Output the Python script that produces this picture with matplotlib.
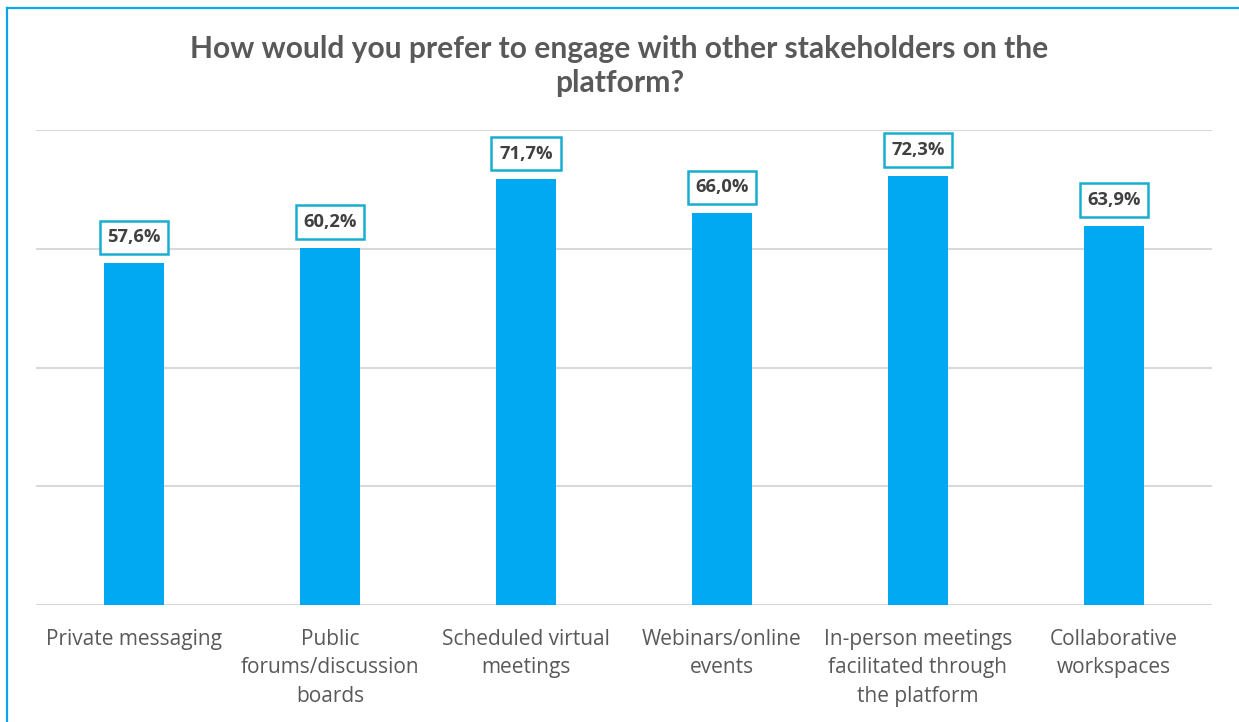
import matplotlib
matplotlib.use('Agg')
import matplotlib.pyplot as plt
from matplotlib.lines import Line2D

# Survey results: preferred ways of engaging with stakeholders
categories = ['Private messaging',
              'Public\nforums/discussion\nboards',
              'Scheduled virtual\nmeetings',
              'Webinars/online\nevents',
              'In-person meetings\nfacilitated through\nthe platform',
              'Collaborative\nworkspaces']
shares = [57.6, 60.2, 71.7, 66.0, 72.3, 63.9]
y_ticks = [0, 20, 40, 60, 80]

title = 'How would you prefer to engage with other stakeholders on the\nplatform?'

BAR_COLOR = '#00A9F1'
BOX_EDGE = '#1AADD0'
TEXT_GREY = '#595959'
GRID_GREY = '#D9D9D9'

W, H = 1239, 722
fig = plt.figure(figsize=(W / 100, H / 100), dpi=100)
fig.patch.set_facecolor('white')

ax = fig.add_axes([36 / W, 1 - 605 / H, (1212 - 36) / W, (605 - 130) / H])
x = list(range(len(categories)))
ax.bar(x, shares, width=0.31, color=BAR_COLOR, zorder=3)

ax.set_xlim(-0.5, len(categories) - 0.5)
ax.set_ylim(0, 80)
ax.set_yticks(y_ticks)
ax.yaxis.grid(True, color=GRID_GREY, linewidth=1.5, zorder=0)
ax.tick_params(axis='y', left=False, labelleft=False)
ax.tick_params(axis='x', length=0, pad=17)
ax.set_xticks(x)
ax.set_xticklabels(categories, fontsize=15, color=TEXT_GREY,
                   family='Open Sans', linespacing=1.48)
for side in ['top', 'right', 'left', 'bottom']:
    ax.spines[side].set_visible(False)

# value labels in outlined boxes above each bar
for xi, v in zip(x, shares):
    ax.annotate(f'{v:.1f}%'.replace('.', ','), xy=(xi, v), xytext=(0, 12),
                textcoords='offset points', ha='center', va='bottom',
                fontsize=13.2, fontweight='bold', color='#404040',
                family='Open Sans',
                bbox=dict(boxstyle='square,pad=0.42', fc='white',
                          ec=BOX_EDGE, lw=1.8), zorder=5)

fig.text(0.5, 1 - 66 / H, title, ha='center', va='center',
         fontsize=21.6, fontweight='bold', color=TEXT_GREY,
         family='Lato', linespacing=1.22)

# chart frame (open on the right and bottom)
fig.add_artist(Line2D([7 / W, 7 / W], [0, 1 - 8 / H], color='#0AA6E8',
                      lw=1.6, transform=fig.transFigure))
fig.add_artist(Line2D([7 / W, 1], [1 - 8 / H, 1 - 8 / H], color='#0AA6E8',
                      lw=1.6, transform=fig.transFigure))

fig.savefig('out.png', dpi=100)
